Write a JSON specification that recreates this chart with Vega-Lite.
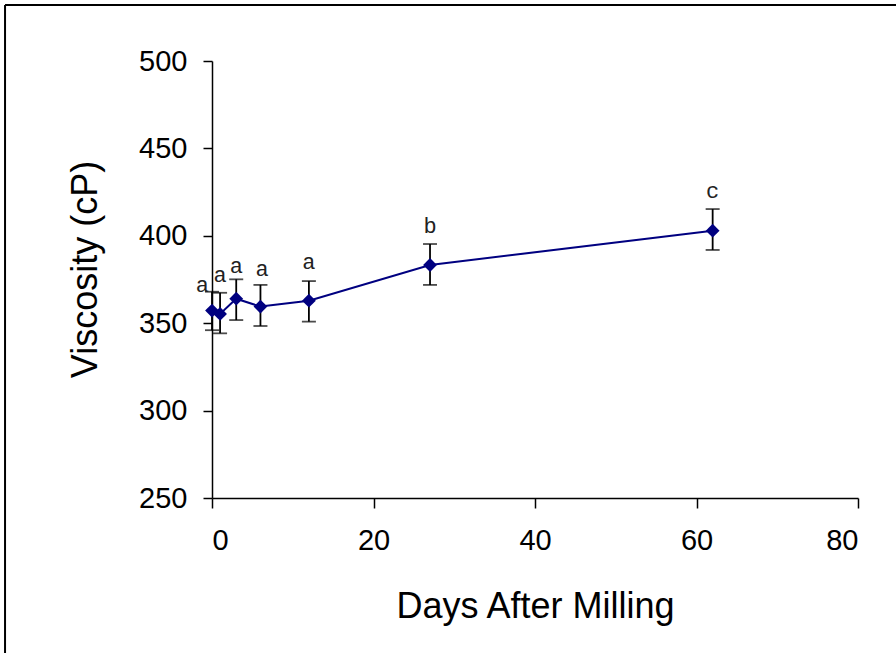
{
  "$schema": "https://vega.github.io/schema/vega-lite/v6.json",
  "autosize": "none",
  "width": 646,
  "height": 437,
  "padding": {"left": 212, "top": 61, "right": 38, "bottom": 155},
  "background": "white",
  "config": {
    "view": {"stroke": null},
    "axis": {
      "grid": false,
      "domainColor": "black",
      "domainWidth": 1.5,
      "tickColor": "black",
      "tickWidth": 1.5,
      "labelFont": "Liberation Sans",
      "labelFontSize": 29,
      "labelColor": "black",
      "titleFont": "Liberation Sans",
      "titleFontSize": 36,
      "titleFontWeight": "normal",
      "titleColor": "black"
    }
  },
  "data": {
    "values": [
      {"day": 0, "visc": 357.2, "lo": 346.0, "hi": 368.0, "label": "a", "lx": -1.2, "ly": 367.8},
      {"day": 1, "visc": 355.3, "lo": 344.2, "hi": 367.4, "label": "a", "lx": 1, "ly": 373.7},
      {"day": 3, "visc": 364.0, "lo": 351.8, "hi": 375.1, "label": "a", "lx": 3, "ly": 378.9},
      {"day": 6, "visc": 359.5, "lo": 348.4, "hi": 371.9, "label": "a", "lx": 6.2, "ly": 377.0},
      {"day": 12, "visc": 362.9, "lo": 350.9, "hi": 374.1, "label": "a", "lx": 12, "ly": 380.8},
      {"day": 27, "visc": 383.3, "lo": 371.9, "hi": 395.3, "label": "b", "lx": 27, "ly": 401.4},
      {"day": 62, "visc": 402.9, "lo": 391.9, "hi": 415.3, "label": "c", "lx": 62, "ly": 421.4}
    ]
  },
  "layer": [
    {
      "data": {"values": [{"x1": -25.63, "y1": 532, "y2": 150}]},
      "mark": {"type": "rule", "color": "black", "strokeWidth": 2, "clip": false},
      "encoding": {
        "x": {"field": "x1", "type": "quantitative", "scale": {"domain": [0, 80], "nice": false, "zero": false}},
        "y": {"field": "y1", "type": "quantitative", "scale": {"domain": [250, 500], "nice": false, "zero": false}},
        "y2": {"field": "y2"}
      }
    },
    {
      "data": {"values": [{"x1": -25.63, "x2": 110, "y1": 532}]},
      "mark": {"type": "rule", "color": "black", "strokeWidth": 2, "clip": false},
      "encoding": {
        "x": {"field": "x1", "type": "quantitative"},
        "x2": {"field": "x2"},
        "y": {"field": "y1", "type": "quantitative"}
      }
    },
    {
      "mark": {"type": "rule", "color": "black", "strokeWidth": 1.8},
      "encoding": {
        "x": {"field": "day", "type": "quantitative"},
        "y": {"field": "lo", "type": "quantitative"},
        "y2": {"field": "hi"}
      }
    },
    {
      "mark": {"type": "tick", "orient": "horizontal", "color": "black", "size": 14, "thickness": 1.8},
      "encoding": {
        "x": {"field": "day", "type": "quantitative"},
        "y": {"field": "lo", "type": "quantitative"}
      }
    },
    {
      "mark": {"type": "tick", "orient": "horizontal", "color": "black", "size": 14, "thickness": 1.8},
      "encoding": {
        "x": {"field": "day", "type": "quantitative"},
        "y": {"field": "hi", "type": "quantitative"}
      }
    },
    {
      "mark": {"type": "line", "color": "#000080", "strokeWidth": 2},
      "encoding": {
        "x": {"field": "day", "type": "quantitative"},
        "y": {"field": "visc", "type": "quantitative"}
      }
    },
    {
      "mark": {"type": "point", "shape": "diamond", "filled": true, "color": "#000080", "size": 190, "opacity": 1},
      "encoding": {
        "x": {"field": "day", "type": "quantitative",
          "scale": {"domain": [0, 80], "nice": false, "zero": false},
          "axis": {"values": [0, 20, 40, 60, 80], "tickSize": 10, "labelPadding": 18, "title": "Days After Milling", "titlePadding": 34}},
        "y": {"field": "visc", "type": "quantitative",
          "scale": {"domain": [250, 500], "nice": false, "zero": false},
          "axis": {"values": [250, 300, 350, 400, 450, 500], "tickSize": 9, "labelPadding": 16, "title": "Viscosity (cP)", "titleX": -108, "titleY": 208}}
      }
    },
    {
      "mark": {"type": "text", "font": "Liberation Mono", "fontSize": 22, "color": "#222222", "align": "center", "baseline": "alphabetic"},
      "encoding": {
        "x": {"field": "lx", "type": "quantitative"},
        "y": {"field": "ly", "type": "quantitative"},
        "text": {"field": "label"}
      }
    }
  ]
}
